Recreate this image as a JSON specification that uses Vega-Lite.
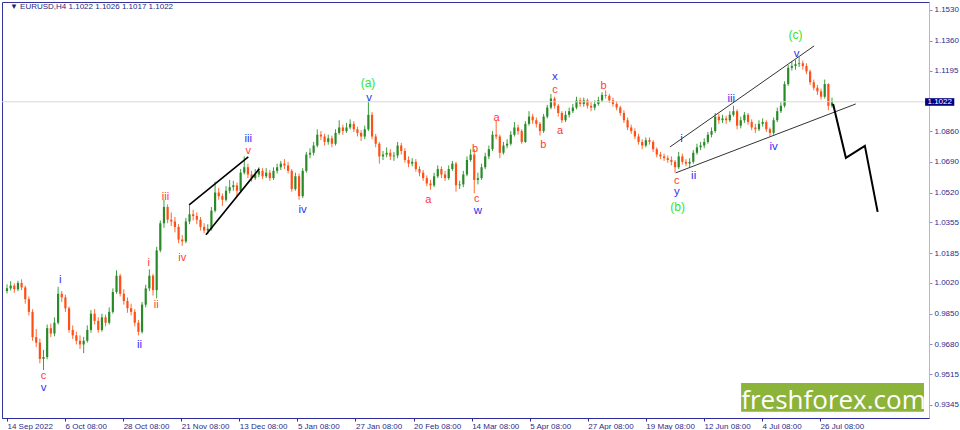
{
  "$schema": "https://vega.github.io/schema/vega-lite/v6.json",
  "width": 927,
  "height": 416,
  "autosize": {"type": "none"},
  "padding": {"left": 2, "top": 2, "right": 31, "bottom": 12},
  "background": "white",
  "data": {"values": [{}]},
  "datasets": {
    "candles": [
      {"d":0,"o":0.9975,"h":1.0012,"l":0.9962,"c":0.9990},
      {"d":1,"o":0.9990,"h":1.0030,"l":0.9978,"c":1.0005},
      {"d":2,"o":1.0005,"h":1.0018,"l":0.9965,"c":0.9985},
      {"d":3,"o":0.9985,"h":1.0032,"l":0.9975,"c":1.0020},
      {"d":4,"o":1.0020,"h":1.0040,"l":0.9980,"c":0.9995},
      {"d":5,"o":0.9995,"h":1.0005,"l":0.9905,"c":0.9930},
      {"d":6,"o":0.9930,"h":0.9945,"l":0.9840,"c":0.9860},
      {"d":7,"o":0.9860,"h":0.9875,"l":0.9700,"c":0.9720},
      {"d":8,"o":0.9720,"h":0.9765,"l":0.9665,"c":0.9690},
      {"d":9,"o":0.9690,"h":0.9712,"l":0.9575,"c":0.9600},
      {"d":10,"o":0.9600,"h":0.9650,"l":0.9539,"c":0.9610},
      {"d":11,"o":0.9610,"h":0.9790,"l":0.9598,"c":0.9770},
      {"d":12,"o":0.9770,"h":0.9795,"l":0.9720,"c":0.9740},
      {"d":13,"o":0.9740,"h":0.9830,"l":0.9725,"c":0.9800},
      {"d":14,"o":0.9800,"h":0.9999,"l":0.9790,"c":0.9960},
      {"d":15,"o":0.9960,"h":0.9975,"l":0.9915,"c":0.9940},
      {"d":16,"o":0.9940,"h":0.9955,"l":0.9860,"c":0.9880},
      {"d":17,"o":0.9880,"h":0.9890,"l":0.9745,"c":0.9760},
      {"d":18,"o":0.9760,"h":0.9785,"l":0.9710,"c":0.9730},
      {"d":19,"o":0.9730,"h":0.9750,"l":0.9680,"c":0.9700},
      {"d":20,"o":0.9700,"h":0.9730,"l":0.9655,"c":0.9680},
      {"d":21,"o":0.9680,"h":0.9722,"l":0.9632,"c":0.9700},
      {"d":22,"o":0.9700,"h":0.9785,"l":0.9690,"c":0.9760},
      {"d":23,"o":0.9760,"h":0.9870,"l":0.9745,"c":0.9850},
      {"d":24,"o":0.9850,"h":0.9875,"l":0.9790,"c":0.9810},
      {"d":25,"o":0.9810,"h":0.9830,"l":0.9745,"c":0.9760},
      {"d":26,"o":0.9760,"h":0.9850,"l":0.9750,"c":0.9830},
      {"d":27,"o":0.9830,"h":0.9845,"l":0.9780,"c":0.9800},
      {"d":28,"o":0.9800,"h":0.9885,"l":0.9790,"c":0.9860},
      {"d":29,"o":0.9860,"h":0.9990,"l":0.9850,"c":0.9970},
      {"d":30,"o":0.9970,"h":1.0090,"l":0.9960,"c":1.0060},
      {"d":31,"o":1.0060,"h":1.0070,"l":0.9945,"c":0.9960},
      {"d":32,"o":0.9960,"h":0.9985,"l":0.9900,"c":0.9920},
      {"d":33,"o":0.9920,"h":0.9940,"l":0.9855,"c":0.9880},
      {"d":34,"o":0.9880,"h":0.9905,"l":0.9840,"c":0.9860},
      {"d":35,"o":0.9860,"h":0.9875,"l":0.9780,"c":0.9800},
      {"d":36,"o":0.9800,"h":0.9815,"l":0.9730,"c":0.9750},
      {"d":37,"o":0.9750,"h":0.9915,"l":0.9740,"c":0.9900},
      {"d":38,"o":0.9900,"h":1.0010,"l":0.9885,"c":0.9990},
      {"d":39,"o":0.9990,"h":1.0095,"l":0.9975,"c":1.0060},
      {"d":40,"o":1.0060,"h":1.0070,"l":0.9950,"c":0.9980},
      {"d":41,"o":0.9980,"h":1.0220,"l":0.9935,"c":1.0200},
      {"d":42,"o":1.0200,"h":1.0365,"l":1.0190,"c":1.0350},
      {"d":43,"o":1.0350,"h":1.0480,"l":1.0325,"c":1.0440},
      {"d":44,"o":1.0440,"h":1.0455,"l":1.0350,"c":1.0370},
      {"d":45,"o":1.0370,"h":1.0410,"l":1.0335,"c":1.0360},
      {"d":46,"o":1.0360,"h":1.0385,"l":1.0300,"c":1.0330},
      {"d":47,"o":1.0330,"h":1.0345,"l":1.0240,"c":1.0260},
      {"d":48,"o":1.0260,"h":1.0285,"l":1.0225,"c":1.0250},
      {"d":49,"o":1.0250,"h":1.0380,"l":1.0240,"c":1.0360},
      {"d":50,"o":1.0360,"h":1.0450,"l":1.0345,"c":1.0400},
      {"d":51,"o":1.0400,"h":1.0425,"l":1.0365,"c":1.0390},
      {"d":52,"o":1.0390,"h":1.0410,"l":1.0345,"c":1.0370},
      {"d":53,"o":1.0370,"h":1.0385,"l":1.0310,"c":1.0330},
      {"d":54,"o":1.0330,"h":1.0350,"l":1.0295,"c":1.0310},
      {"d":55,"o":1.0310,"h":1.0345,"l":1.0290,"c":1.0320},
      {"d":56,"o":1.0320,"h":1.0440,"l":1.0310,"c":1.0420},
      {"d":57,"o":1.0420,"h":1.0580,"l":1.0410,"c":1.0520},
      {"d":58,"o":1.0520,"h":1.0545,"l":1.0480,"c":1.0500},
      {"d":59,"o":1.0500,"h":1.0515,"l":1.0445,"c":1.0480},
      {"d":60,"o":1.0480,"h":1.0555,"l":1.0470,"c":1.0530},
      {"d":61,"o":1.0530,"h":1.0590,"l":1.0515,"c":1.0550},
      {"d":62,"o":1.0550,"h":1.0585,"l":1.0530,"c":1.0560},
      {"d":63,"o":1.0560,"h":1.0575,"l":1.0500,"c":1.0530},
      {"d":64,"o":1.0530,"h":1.0650,"l":1.0520,"c":1.0630},
      {"d":65,"o":1.0630,"h":1.0720,"l":1.0620,"c":1.0660},
      {"d":66,"o":1.0660,"h":1.0680,"l":1.0600,"c":1.0620},
      {"d":67,"o":1.0620,"h":1.0640,"l":1.0580,"c":1.0600},
      {"d":68,"o":1.0600,"h":1.0650,"l":1.0590,"c":1.0620},
      {"d":69,"o":1.0620,"h":1.0660,"l":1.0605,"c":1.0640},
      {"d":70,"o":1.0640,"h":1.0655,"l":1.0595,"c":1.0610},
      {"d":71,"o":1.0610,"h":1.0655,"l":1.0600,"c":1.0630},
      {"d":72,"o":1.0630,"h":1.0645,"l":1.0585,"c":1.0600},
      {"d":73,"o":1.0600,"h":1.0660,"l":1.0590,"c":1.0640},
      {"d":74,"o":1.0640,"h":1.0680,"l":1.0625,"c":1.0660},
      {"d":75,"o":1.0660,"h":1.0695,"l":1.0645,"c":1.0680},
      {"d":76,"o":1.0680,"h":1.0705,"l":1.0650,"c":1.0670},
      {"d":77,"o":1.0670,"h":1.0690,"l":1.0625,"c":1.0640},
      {"d":78,"o":1.0640,"h":1.0650,"l":1.0525,"c":1.0540},
      {"d":79,"o":1.0540,"h":1.0630,"l":1.0530,"c":1.0610},
      {"d":80,"o":1.0610,"h":1.0625,"l":1.0480,"c":1.0500},
      {"d":81,"o":1.0500,"h":1.0655,"l":1.0490,"c":1.0640},
      {"d":82,"o":1.0640,"h":1.0745,"l":1.0630,"c":1.0730},
      {"d":83,"o":1.0730,"h":1.0765,"l":1.0710,"c":1.0740},
      {"d":84,"o":1.0740,"h":1.0800,"l":1.0725,"c":1.0780},
      {"d":85,"o":1.0780,"h":1.0870,"l":1.0770,"c":1.0840},
      {"d":86,"o":1.0840,"h":1.0860,"l":1.0810,"c":1.0830},
      {"d":87,"o":1.0830,"h":1.0845,"l":1.0780,"c":1.0800},
      {"d":88,"o":1.0800,"h":1.0840,"l":1.0785,"c":1.0820},
      {"d":89,"o":1.0820,"h":1.0835,"l":1.0770,"c":1.0790},
      {"d":90,"o":1.0790,"h":1.0870,"l":1.0780,"c":1.0850},
      {"d":91,"o":1.0850,"h":1.0920,"l":1.0840,"c":1.0880},
      {"d":92,"o":1.0880,"h":1.0895,"l":1.0840,"c":1.0860},
      {"d":93,"o":1.0860,"h":1.0905,"l":1.0850,"c":1.0880},
      {"d":94,"o":1.0880,"h":1.0925,"l":1.0870,"c":1.0900},
      {"d":95,"o":1.0900,"h":1.0915,"l":1.0855,"c":1.0870},
      {"d":96,"o":1.0870,"h":1.0885,"l":1.0830,"c":1.0850},
      {"d":97,"o":1.0850,"h":1.0865,"l":1.0805,"c":1.0830},
      {"d":98,"o":1.0830,"h":1.0890,"l":1.0815,"c":1.0870},
      {"d":99,"o":1.0870,"h":1.1030,"l":1.0860,"c":1.0950},
      {"d":100,"o":1.0950,"h":1.0965,"l":1.0815,"c":1.0830},
      {"d":101,"o":1.0830,"h":1.0845,"l":1.0770,"c":1.0790},
      {"d":102,"o":1.0790,"h":1.0800,"l":1.0680,"c":1.0720},
      {"d":103,"o":1.0720,"h":1.0750,"l":1.0700,"c":1.0730},
      {"d":104,"o":1.0730,"h":1.0770,"l":1.0715,"c":1.0740},
      {"d":105,"o":1.0740,"h":1.0760,"l":1.0700,"c":1.0720},
      {"d":106,"o":1.0720,"h":1.0745,"l":1.0695,"c":1.0725},
      {"d":107,"o":1.0725,"h":1.0800,"l":1.0710,"c":1.0780},
      {"d":108,"o":1.0780,"h":1.0795,"l":1.0730,"c":1.0750},
      {"d":109,"o":1.0750,"h":1.0765,"l":1.0685,"c":1.0700},
      {"d":110,"o":1.0700,"h":1.0720,"l":1.0660,"c":1.0680},
      {"d":111,"o":1.0680,"h":1.0710,"l":1.0665,"c":1.0690},
      {"d":112,"o":1.0690,"h":1.0705,"l":1.0635,"c":1.0650},
      {"d":113,"o":1.0650,"h":1.0665,"l":1.0610,"c":1.0630},
      {"d":114,"o":1.0630,"h":1.0645,"l":1.0585,"c":1.0600},
      {"d":115,"o":1.0600,"h":1.0615,"l":1.0555,"c":1.0570},
      {"d":116,"o":1.0570,"h":1.0590,"l":1.0535,"c":1.0560},
      {"d":117,"o":1.0560,"h":1.0630,"l":1.0550,"c":1.0610},
      {"d":118,"o":1.0610,"h":1.0670,"l":1.0600,"c":1.0650},
      {"d":119,"o":1.0650,"h":1.0665,"l":1.0600,"c":1.0620},
      {"d":120,"o":1.0620,"h":1.0640,"l":1.0585,"c":1.0600},
      {"d":121,"o":1.0600,"h":1.0670,"l":1.0590,"c":1.0650},
      {"d":122,"o":1.0650,"h":1.0695,"l":1.0640,"c":1.0680},
      {"d":123,"o":1.0680,"h":1.0690,"l":1.0525,"c":1.0560},
      {"d":124,"o":1.0560,"h":1.0585,"l":1.0540,"c":1.0565},
      {"d":125,"o":1.0565,"h":1.0640,"l":1.0550,"c":1.0620},
      {"d":126,"o":1.0620,"h":1.0720,"l":1.0610,"c":1.0700},
      {"d":127,"o":1.0700,"h":1.0760,"l":1.0690,"c":1.0730},
      {"d":128,"o":1.0730,"h":1.0760,"l":1.0516,"c":1.0590},
      {"d":129,"o":1.0590,"h":1.0630,"l":1.0565,"c":1.0600},
      {"d":130,"o":1.0600,"h":1.0680,"l":1.0590,"c":1.0660},
      {"d":131,"o":1.0660,"h":1.0740,"l":1.0650,"c":1.0720},
      {"d":132,"o":1.0720,"h":1.0780,"l":1.0705,"c":1.0760},
      {"d":133,"o":1.0760,"h":1.0860,"l":1.0750,"c":1.0840},
      {"d":134,"o":1.0840,"h":1.0920,"l":1.0815,"c":1.0830},
      {"d":135,"o":1.0830,"h":1.0840,"l":1.0710,"c":1.0740},
      {"d":136,"o":1.0740,"h":1.0800,"l":1.0730,"c":1.0780},
      {"d":137,"o":1.0780,"h":1.0815,"l":1.0765,"c":1.0790},
      {"d":138,"o":1.0790,"h":1.0860,"l":1.0780,"c":1.0840},
      {"d":139,"o":1.0840,"h":1.0910,"l":1.0830,"c":1.0880},
      {"d":140,"o":1.0880,"h":1.0895,"l":1.0840,"c":1.0860},
      {"d":141,"o":1.0860,"h":1.0870,"l":1.0790,"c":1.0800},
      {"d":142,"o":1.0800,"h":1.0915,"l":1.0795,"c":1.0900},
      {"d":143,"o":1.0900,"h":1.0970,"l":1.0890,"c":1.0940},
      {"d":144,"o":1.0940,"h":1.0955,"l":1.0900,"c":1.0920},
      {"d":145,"o":1.0920,"h":1.0935,"l":1.0880,"c":1.0900},
      {"d":146,"o":1.0900,"h":1.0910,"l":1.0835,"c":1.0860},
      {"d":147,"o":1.0860,"h":1.0955,"l":1.0850,"c":1.0940},
      {"d":148,"o":1.0940,"h":1.1005,"l":1.0930,"c":1.0990},
      {"d":149,"o":1.0990,"h":1.1065,"l":1.0980,"c":1.1040},
      {"d":150,"o":1.1040,"h":1.1050,"l":1.0985,"c":1.1000},
      {"d":151,"o":1.1000,"h":1.1010,"l":1.0940,"c":1.0960},
      {"d":152,"o":1.0960,"h":1.0970,"l":1.0905,"c":1.0920},
      {"d":153,"o":1.0920,"h":1.0970,"l":1.0910,"c":1.0950},
      {"d":154,"o":1.0950,"h":1.0990,"l":1.0935,"c":1.0970},
      {"d":155,"o":1.0970,"h":1.1010,"l":1.0960,"c":1.0990},
      {"d":156,"o":1.0990,"h":1.1050,"l":1.0980,"c":1.1030},
      {"d":157,"o":1.1030,"h":1.1045,"l":1.0995,"c":1.1010},
      {"d":158,"o":1.1010,"h":1.1045,"l":1.0995,"c":1.1030},
      {"d":159,"o":1.1030,"h":1.1040,"l":1.0985,"c":1.1000},
      {"d":160,"o":1.1000,"h":1.1020,"l":1.0970,"c":1.0990},
      {"d":161,"o":1.0990,"h":1.1030,"l":1.0975,"c":1.1010},
      {"d":162,"o":1.1010,"h":1.1050,"l":1.1000,"c":1.1030},
      {"d":163,"o":1.1030,"h":1.1075,"l":1.1020,"c":1.1060},
      {"d":164,"o":1.1060,"h":1.1085,"l":1.1040,"c":1.1055},
      {"d":165,"o":1.1055,"h":1.1065,"l":1.1015,"c":1.1030},
      {"d":166,"o":1.1030,"h":1.1045,"l":1.0995,"c":1.1010},
      {"d":167,"o":1.1010,"h":1.1025,"l":1.0975,"c":1.0990},
      {"d":168,"o":1.0990,"h":1.1000,"l":1.0945,"c":1.0960},
      {"d":169,"o":1.0960,"h":1.0975,"l":1.0905,"c":1.0920},
      {"d":170,"o":1.0920,"h":1.0935,"l":1.0865,"c":1.0880},
      {"d":171,"o":1.0880,"h":1.0895,"l":1.0845,"c":1.0860},
      {"d":172,"o":1.0860,"h":1.0875,"l":1.0815,"c":1.0830},
      {"d":173,"o":1.0830,"h":1.0845,"l":1.0785,"c":1.0800},
      {"d":174,"o":1.0800,"h":1.0815,"l":1.0760,"c":1.0780},
      {"d":175,"o":1.0780,"h":1.0825,"l":1.0770,"c":1.0810},
      {"d":176,"o":1.0810,"h":1.0825,"l":1.0785,"c":1.0800},
      {"d":177,"o":1.0800,"h":1.0810,"l":1.0745,"c":1.0760},
      {"d":178,"o":1.0760,"h":1.0770,"l":1.0715,"c":1.0730},
      {"d":179,"o":1.0730,"h":1.0745,"l":1.0705,"c":1.0720},
      {"d":180,"o":1.0720,"h":1.0735,"l":1.0695,"c":1.0710},
      {"d":181,"o":1.0710,"h":1.0725,"l":1.0685,"c":1.0700},
      {"d":182,"o":1.0700,"h":1.0720,"l":1.0670,"c":1.0690},
      {"d":183,"o":1.0690,"h":1.0700,"l":1.0630,"c":1.0660},
      {"d":184,"o":1.0660,"h":1.0745,"l":1.0650,"c":1.0720},
      {"d":185,"o":1.0720,"h":1.0735,"l":1.0675,"c":1.0690},
      {"d":186,"o":1.0690,"h":1.0705,"l":1.0665,"c":1.0680},
      {"d":187,"o":1.0680,"h":1.0710,"l":1.0660,"c":1.0690},
      {"d":188,"o":1.0690,"h":1.0755,"l":1.0680,"c":1.0740},
      {"d":189,"o":1.0740,"h":1.0790,"l":1.0730,"c":1.0770},
      {"d":190,"o":1.0770,"h":1.0800,"l":1.0755,"c":1.0780},
      {"d":191,"o":1.0780,"h":1.0820,"l":1.0765,"c":1.0800},
      {"d":192,"o":1.0800,"h":1.0855,"l":1.0790,"c":1.0840},
      {"d":193,"o":1.0840,"h":1.0880,"l":1.0825,"c":1.0860},
      {"d":194,"o":1.0860,"h":1.0960,"l":1.0850,"c":1.0940},
      {"d":195,"o":1.0940,"h":1.0955,"l":1.0900,"c":1.0920},
      {"d":196,"o":1.0920,"h":1.0950,"l":1.0905,"c":1.0930},
      {"d":197,"o":1.0930,"h":1.0945,"l":1.0900,"c":1.0920},
      {"d":198,"o":1.0920,"h":1.0970,"l":1.0910,"c":1.0950},
      {"d":199,"o":1.0950,"h":1.1000,"l":1.0940,"c":1.0970},
      {"d":200,"o":1.0970,"h":1.0980,"l":1.0870,"c":1.0890},
      {"d":201,"o":1.0890,"h":1.0940,"l":1.0875,"c":1.0920},
      {"d":202,"o":1.0920,"h":1.0965,"l":1.0905,"c":1.0950},
      {"d":203,"o":1.0950,"h":1.0960,"l":1.0895,"c":1.0910},
      {"d":204,"o":1.0910,"h":1.0925,"l":1.0865,"c":1.0880},
      {"d":205,"o":1.0880,"h":1.0900,"l":1.0850,"c":1.0870},
      {"d":206,"o":1.0870,"h":1.0920,"l":1.0860,"c":1.0900},
      {"d":207,"o":1.0900,"h":1.0930,"l":1.0885,"c":1.0910},
      {"d":208,"o":1.0910,"h":1.0920,"l":1.0855,"c":1.0870},
      {"d":209,"o":1.0870,"h":1.0880,"l":1.0830,"c":1.0850},
      {"d":210,"o":1.0850,"h":1.0935,"l":1.0840,"c":1.0920},
      {"d":211,"o":1.0920,"h":1.0990,"l":1.0910,"c":1.0970},
      {"d":212,"o":1.0970,"h":1.1020,"l":1.0960,"c":1.1000},
      {"d":213,"o":1.1000,"h":1.1135,"l":1.0990,"c":1.1120},
      {"d":214,"o":1.1120,"h":1.1225,"l":1.1110,"c":1.1210},
      {"d":215,"o":1.1210,"h":1.1245,"l":1.1195,"c":1.1220},
      {"d":216,"o":1.1220,"h":1.1255,"l":1.1200,"c":1.1230},
      {"d":217,"o":1.1230,"h":1.1270,"l":1.1215,"c":1.1235},
      {"d":218,"o":1.1235,"h":1.1250,"l":1.1200,"c":1.1220},
      {"d":219,"o":1.1220,"h":1.1235,"l":1.1175,"c":1.1190},
      {"d":220,"o":1.1190,"h":1.1200,"l":1.1115,"c":1.1130},
      {"d":221,"o":1.1130,"h":1.1145,"l":1.1085,"c":1.1100},
      {"d":222,"o":1.1100,"h":1.1115,"l":1.1060,"c":1.1080},
      {"d":223,"o":1.1080,"h":1.1095,"l":1.1035,"c":1.1050},
      {"d":224,"o":1.1050,"h":1.1145,"l":1.1040,"c":1.1120},
      {"d":225,"o":1.1120,"h":1.1125,"l":1.0975,"c":1.1000},
      {"d":226,"o":1.1000,"h":1.1045,"l":1.0990,"c":1.1022}
    ],
    "lines": [
      {"grp":"wedge1","d":49.9,"p":1.0452},
      {"grp":"wedge1","d":66.1,"p":1.0717},
      {"grp":"wedge1b","d":54.5,"p":1.0286},
      {"grp":"wedge1b","d":69.1,"p":1.0651},
      {"grp":"wedge2","d":181.6,"p":1.0772},
      {"grp":"wedge2","d":221.1,"p":1.1331},
      {"grp":"wedge2b","d":183.2,"p":1.0629},
      {"grp":"wedge2b","d":232.5,"p":1.1010},
      {"grp":"forecast","d":226.3,"p":1.1010},
      {"grp":"forecast","d":229.8,"p":1.0712},
      {"grp":"forecast","d":235.0,"p":1.0778},
      {"grp":"forecast","d":238.5,"p":1.0413}
    ],
    "labels": [
      {"t":"c","deg":"sub","d":10.0,"p":0.9507},
      {"t":"v","deg":"main","d":10.0,"p":0.9438},
      {"t":"i","deg":"main","d":14.6,"p":1.0037},
      {"t":"ii","deg":"main","d":36.3,"p":0.9677},
      {"t":"i","deg":"sub","d":38.8,"p":1.0131},
      {"t":"ii","deg":"sub","d":40.9,"p":0.9899},
      {"t":"iii","deg":"sub","d":43.4,"p":1.0496},
      {"t":"iv","deg":"sub","d":48.0,"p":1.0159},
      {"t":"iii","deg":"main","d":66.1,"p":1.0816},
      {"t":"v","deg":"sub","d":66.1,"p":1.0748},
      {"t":"iv","deg":"main","d":81.0,"p":1.0424},
      {"t":"(a)","deg":"top","d":98.9,"p":1.1125},
      {"t":"v","deg":"main","d":99.2,"p":1.1045},
      {"t":"a","deg":"sub","d":115.4,"p":1.0479},
      {"t":"b","deg":"sub","d":128.2,"p":1.0761},
      {"t":"c","deg":"sub","d":128.7,"p":1.0485},
      {"t":"w","deg":"main","d":129.0,"p":1.0418},
      {"t":"a","deg":"sub","d":134.1,"p":1.0933},
      {"t":"b","deg":"sub","d":146.9,"p":1.0783},
      {"t":"x","deg":"main","d":150.1,"p":1.1160},
      {"t":"c","deg":"sub","d":150.1,"p":1.1090},
      {"t":"a","deg":"sub","d":151.5,"p":1.0861},
      {"t":"b","deg":"sub","d":163.4,"p":1.1110},
      {"t":"i","deg":"main","d":184.8,"p":1.0817},
      {"t":"c","deg":"sub","d":183.5,"p":1.0585},
      {"t":"y","deg":"main","d":183.5,"p":1.0522},
      {"t":"(b)","deg":"top","d":183.7,"p":1.0440},
      {"t":"ii","deg":"main","d":188.1,"p":1.0612},
      {"t":"iii","deg":"main","d":198.4,"p":1.1038},
      {"t":"iv","deg":"main","d":210.0,"p":1.0772},
      {"t":"v","deg":"main","d":216.3,"p":1.1288},
      {"t":"(c)","deg":"top","d":216.0,"p":1.1392}
    ]
  },
  "layer": [
    {
      "data": {"name": "candles"},
      "mark": {"type": "rule", "strokeWidth": 1},
      "encoding": {
        "x": {
          "field": "d",
          "type": "quantitative",
          "scale": {"domain": [0, 251.2], "nice": false, "zero": false},
          "axis": {
            "orient": "bottom",
            "title": null,
            "grid": false,
            "values": [0, 15.91, 31.82, 47.73, 63.64, 79.55, 95.46, 111.37, 127.28, 143.19, 159.1, 175.01, 190.92, 206.83, 222.74],
            "tickCount": 40,
            "labelExpr": "['14 Sep 2022','6 Oct 08:00','28 Oct 08:00','21 Nov 08:00','13 Dec 08:00','5 Jan 08:00','27 Jan 08:00','20 Feb 08:00','14 Mar 08:00','5 Apr 08:00','27 Apr 08:00','19 May 08:00','12 Jun 08:00','4 Jul 08:00','26 Jul 08:00'][round(datum.value / 15.91)]",
            "labelAlign": "left",
            "labelFont": "Liberation Sans",
            "labelFontSize": 8,
            "labelColor": "#2b2b8c",
            "labelPadding": 1,
            "labelOverlap": false,
            "labelFlush": false,
            "tickSize": 3,
            "tickColor": "#2b2b8c",
            "domainColor": "#2b2b9c"
          }
        },
        "y": {
          "field": "l",
          "type": "quantitative",
          "scale": {"domain": [0.9273, 1.1574], "nice": false, "zero": false},
          "axis": {
            "orient": "right",
            "title": null,
            "grid": false,
            "values": [0.9345, 0.9515, 0.968, 0.985, 1.002, 1.0185, 1.0355, 1.052, 1.069, 1.086, 1.1195, 1.136, 1.153],
            "tickCount": 40,
            "format": ".4f",
            "labelFont": "Liberation Sans",
            "labelFontSize": 8,
            "labelColor": "#2b2b8c",
            "labelPadding": 2,
            "labelOverlap": false,
            "labelFlush": false,
            "tickSize": 3,
            "tickColor": "#8a8ac8",
            "domainColor": "#b4b4e0"
          }
        },
        "y2": {"field": "h"},
        "color": {"condition": {"test": "datum.c >= datum.o", "value": "#3aa03a"}, "value": "#ff6a30"}
      }
    },
    {
      "data": {"name": "candles"},
      "mark": {"type": "bar", "size": 2.2},
      "encoding": {
        "x": {"field": "d", "type": "quantitative"},
        "y": {"field": "o", "type": "quantitative"},
        "y2": {"field": "c"},
        "color": {"condition": {"test": "datum.c >= datum.o", "value": "#2a8a2a"}, "value": "#ff4f14"}
      }
    },
    {
      "mark": {"type": "rule", "color": "#d9d9d9", "strokeWidth": 1},
      "encoding": {"y": {"datum": 1.1022, "type": "quantitative"}}
    },
    {
      "data": {"name": "lines"},
      "transform": [{"filter": "datum.grp == 'wedge1' || datum.grp == 'wedge1b'"}],
      "mark": {"type": "line", "color": "#000000", "strokeWidth": 1.6},
      "encoding": {
        "x": {"field": "d", "type": "quantitative"},
        "y": {"field": "p", "type": "quantitative"},
        "detail": {"field": "grp"}
      }
    },
    {
      "data": {"name": "lines"},
      "transform": [{"filter": "datum.grp == 'wedge2' || datum.grp == 'wedge2b'"}],
      "mark": {"type": "line", "color": "#333333", "strokeWidth": 1},
      "encoding": {
        "x": {"field": "d", "type": "quantitative"},
        "y": {"field": "p", "type": "quantitative"},
        "detail": {"field": "grp"}
      }
    },
    {
      "data": {"name": "lines"},
      "transform": [{"filter": "datum.grp == 'forecast'"}],
      "mark": {"type": "line", "color": "#000000", "strokeWidth": 2},
      "encoding": {
        "x": {"field": "d", "type": "quantitative"},
        "y": {"field": "p", "type": "quantitative"}
      }
    },
    {
      "data": {"name": "labels"},
      "mark": {"type": "text", "font": "Liberation Sans", "baseline": "middle", "align": "center"},
      "encoding": {
        "x": {"field": "d", "type": "quantitative"},
        "y": {"field": "p", "type": "quantitative"},
        "text": {"field": "t"},
        "color": {
          "field": "deg",
          "type": "nominal",
          "scale": {"domain": ["sub", "main", "top"], "range": ["#ff3a3a", "#2f2ff0", "#2ee62e"]},
          "legend": null
        },
        "size": {
          "field": "deg",
          "type": "ordinal",
          "scale": {"domain": ["sub", "main", "top"], "range": [11, 12, 17]},
          "legend": null
        }
      }
    },
    {
      "mark": {"type": "rect", "color": "#8cb33a"},
      "encoding": {
        "x": {"datum": 201.1, "type": "quantitative"},
        "x2": {"datum": 251.2},
        "y": {"datum": 0.9307, "type": "quantitative"},
        "y2": {"datum": 0.9467}
      }
    },
    {
      "mark": {"type": "text", "color": "#ffffff", "font": "Open Sans", "fontSize": 26, "align": "center", "baseline": "alphabetic"},
      "encoding": {
        "x": {"datum": 226.4, "type": "quantitative"},
        "y": {"datum": 0.9323, "type": "quantitative"},
        "text": {"value": "freshforex.com"}
      }
    },
    {
      "mark": {"type": "text", "color": "#1f1f80", "font": "Liberation Sans", "fontSize": 8, "align": "left", "baseline": "middle"},
      "encoding": {
        "x": {"datum": 0.8, "type": "quantitative"},
        "y": {"datum": 1.1547, "type": "quantitative"},
        "text": {"value": "▼ EURUSD,H4  1.1022 1.1026 1.1017 1.1022"}
      }
    },
    {
      "mark": {"type": "rect", "color": "#000080", "clip": false},
      "encoding": {
        "x": {"datum": 251.5, "type": "quantitative"},
        "x2": {"datum": 259.5},
        "y": {"datum": 1.1000, "type": "quantitative"},
        "y2": {"datum": 1.1042}
      }
    },
    {
      "mark": {"type": "text", "color": "#ffffff", "font": "Liberation Sans", "fontSize": 8, "align": "center", "baseline": "middle", "clip": false},
      "encoding": {
        "x": {"datum": 255.5, "type": "quantitative"},
        "y": {"datum": 1.1021, "type": "quantitative"},
        "text": {"value": "1.1022"}
      }
    }
  ],
  "config": {
    "view": {"stroke": "#33339a", "strokeWidth": 1},
    "axis": {"grid": false, "labelOverlap": false}
  }
}
